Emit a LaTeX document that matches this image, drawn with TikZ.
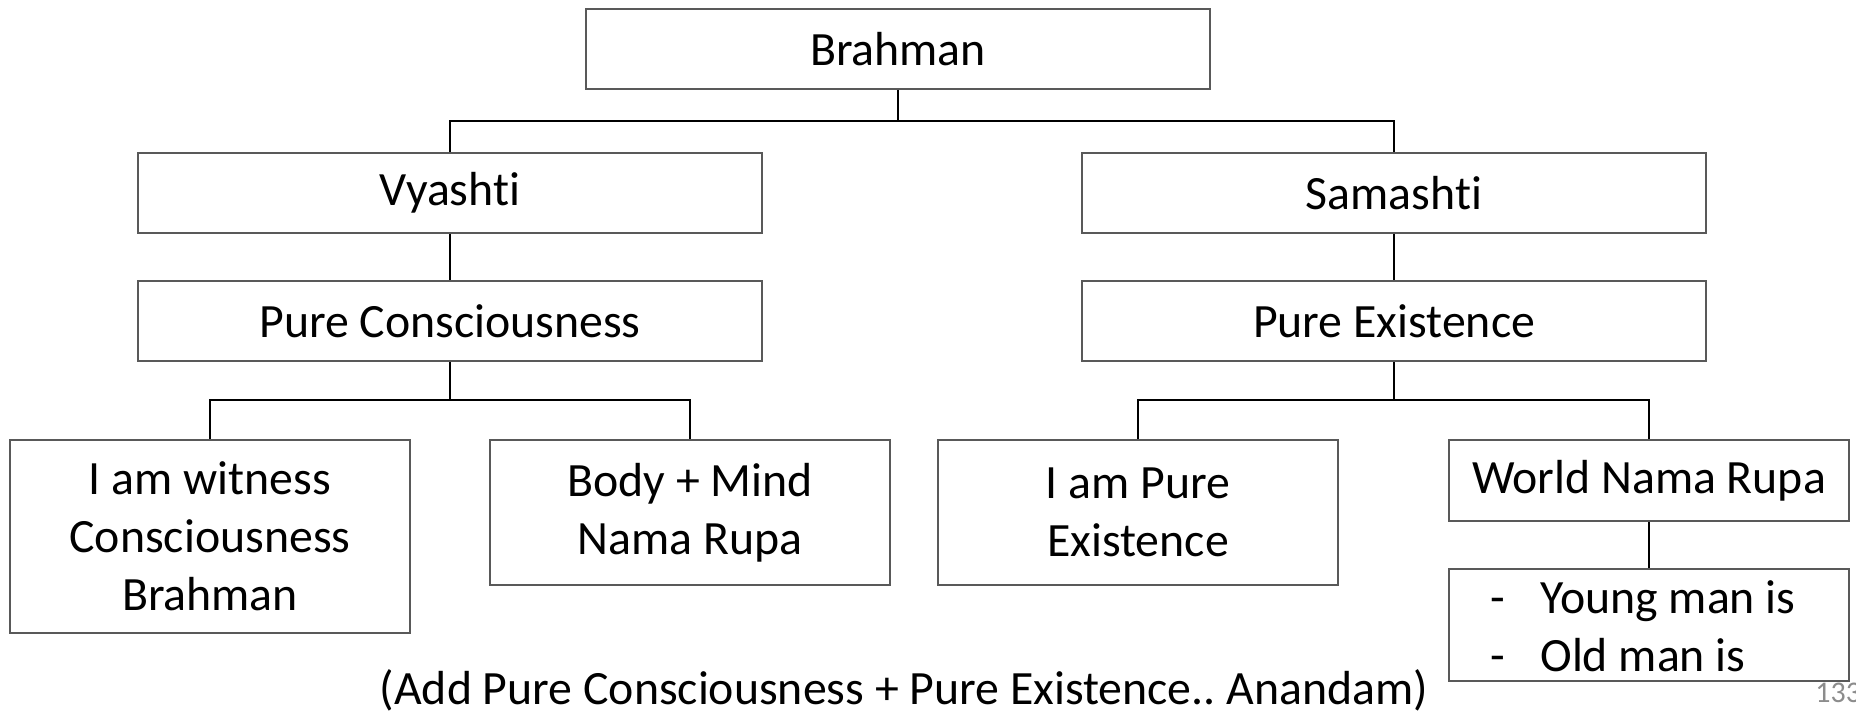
\documentclass[tikz,border=0pt]{standalone}
\usepackage{fontspec}
\setmainfont{Carlito}[Ligatures=NoCommon]
\frenchspacing
\begin{document}
\begin{tikzpicture}[x=0.5pt,y=-0.5pt,
  txt/.style={font=\fontsize{23.9}{29}\selectfont},
  box/.style={draw=black!65, line width=0.8pt, fill=white, inner sep=0pt,
    align=center, txt},
  wide/.style={box, minimum width=312pt, minimum height=40pt},
  leaf/.style={box, minimum width=200pt},
  link/.style={draw=black, line width=0.9pt}]
\useasboundingbox (0,0) rectangle (1856,711);

% top levels
\node[wide] (brahman)  at (898,49)   {Brahman};
\node[wide] (vyashti)  at (450,193)  {Vyashti};
\node[wide] (samashti) at (1394,193) {Samashti};
\node[wide] (pc)       at (450,321)  {Pure Consciousness};
\node[wide] (pe)       at (1394,321) {Pure Existence};

% leaves
\node[leaf, minimum height=96.5pt] (witness) at (210,536.5)  {I am witness\\Consciousness\\Brahman};
\node[leaf, minimum height=72.5pt] (bodymind) at (690,512.5) {Body + Mind\\Nama Rupa};
\node[leaf, minimum height=72.5pt] (iampure) at (1138,512.5) {I am Pure\\Existence};
\node[leaf, minimum height=40.5pt] (world) at (1649,480.5)   {World Nama Rupa};
\node[leaf, minimum height=56pt] (ages) at (1649,625) {};
\node[anchor=west, inner sep=0pt, align=left, txt] (agelist) at (1490,626)
  {\makebox[25pt][l]{-}Young man is\\\makebox[25pt][l]{-}Old man is};

% junction points of the branches
\coordinate (j1) at (898,121);
\coordinate (j2) at (450,400);
\coordinate (j3) at (1394,400);

\draw[link] (brahman.south) -- (j1);
\draw[link] (vyashti.north) |- (j1) -| (samashti.north);
\draw[link] (vyashti.south) -- (pc.north);
\draw[link] (samashti.south) -- (pe.north);
\draw[link] (pc.south) -- (j2);
\draw[link] (witness.north) |- (j2) -| (bodymind.north);
\draw[link] (pe.south) -- (j3);
\draw[link] (iampure.north) |- (j3) -| (world.north);
\draw[link] (world.south) -- (ages.north);

% caption and page number
\node[anchor=base, inner sep=0pt, txt] (note) at (904,704)
  {(Add Pure Consciousness + Pure Existence.. Anandam)};
\node[anchor=base west, inner sep=0pt, text=black!45, font=\fontsize{15}{18}\selectfont] (page) at (1815,702) {133};
\end{tikzpicture}
\end{document}
